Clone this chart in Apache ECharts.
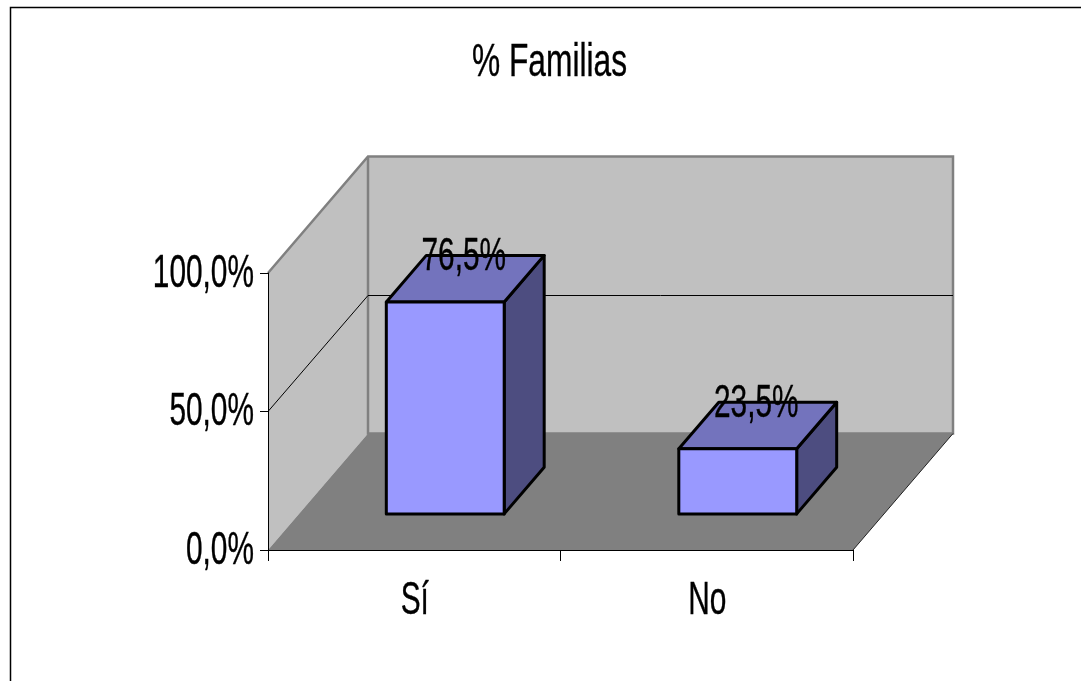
<!DOCTYPE html>
<html>
<head>
<meta charset="utf-8">
<style>html,body{margin:0;padding:0;background:#fff;overflow:hidden}#chart{width:1081px;height:681px}</style>
<script src="https://cdn.jsdelivr.net/npm/echarts@6/dist/echarts.min.js"></script>
</head>
<body>
<div id="chart"></div>
<script>
// Chart values
const titleText = '% Familias';
const categories = ['Sí', 'No'];
const shares = [76.5, 23.5];
const yTickValues = [0, 50, 100];
const yTickLabels = ['0,0%', '50,0%', '100,0%'];

// Oblique projection of the box: how far the back plane shifts from the front plane
const DEPTH_X = 100, DEPTH_Y = -116.5;
const BAR_START = 0.31, BAR_DEPTH = 0.4, BAR_SHARE = 0.403;

const FONT = '"Liberation Sans", Arial, sans-serif';
const FONT_SIZE = 47, SQUEEZE = 0.635;
const WALL = '#C0C0C0', FLOOR = '#808080', EDGE = '#808080';
const FRONT = '#9999FF', TOP = '#7373BD', SIDE = '#4D4D80';

const shift = (p, t) => [p[0] + DEPTH_X * t, p[1] + DEPTH_Y * t];
const crisp = p => [p[0], Math.floor(p[1]) + 0.5];
const textStyle = (text, align) => ({
  text, fontFamily: FONT, fontSize: FONT_SIZE, fill: '#000',
  stroke: '#000', lineWidth: 0.4, align, verticalAlign: 'middle'
});
const squeezed = (text, x, y, align) => ({
  type: 'text', x, y, scaleX: SQUEEZE, style: textStyle(text, align)
});

// Back wall, side wall, floor and the gridlines that run across them
function renderRoom(params, api) {
  const left = params.coordSys.x, right = left + params.coordSys.width;
  const at = (x, v) => [x, api.coord([0, v])[1]];
  const fl = at(left, 0), fr = at(right, 0), tl = at(left, 100), tr = at(right, 100);
  const bfl = shift(fl, 1), bfr = shift(fr, 1), btl = shift(tl, 1), btr = shift(tr, 1);
  const children = [
    { type: 'polygon', shape: { points: [bfl, btl, btr, bfr] }, style: { fill: WALL } },
    { type: 'polygon', shape: { points: [fl, tl, btl, bfl] }, style: { fill: WALL } },
    { type: 'polygon', shape: { points: [fl, fr, bfr, bfl] }, style: { fill: FLOOR } },
    { type: 'polyline', shape: { points: [tl, btl, btr, bfr, bfl, btl] }, style: { fill: 'none', stroke: EDGE, lineWidth: 2.5 } },
    { type: 'line', shape: { x1: fr[0], y1: fr[1], x2: bfr[0], y2: bfr[1] }, style: { stroke: '#222', lineWidth: 1 } }
  ];
  yTickValues.slice(1, -1).forEach(v => {
    const a = at(left, v), b = crisp(shift(a, 1)), c = crisp(shift(at(right, v), 1));
    children.push({ type: 'polyline', shape: { points: [a, b, c] }, style: { fill: 'none', stroke: '#000', lineWidth: 1 } });
  });
  return { type: 'group', children };
}

// One box per category: side and top faces first, then the front, then the value
function renderBar(params, api) {
  const base = api.coord([api.value(0), 0]);
  const topY = api.coord([api.value(0), api.value(1)])[1];
  const half = api.size([1, 0])[0] * BAR_SHARE / 2;
  const bl = shift([base[0] - half, base[1]], BAR_START);
  const br = shift([base[0] + half, base[1]], BAR_START);
  const rise = topY - base[1];
  const tl = [bl[0], bl[1] + rise], tr = [br[0], br[1] + rise];
  const line = { stroke: '#000', lineWidth: 3, lineJoin: 'round' };
  const backOf = p => [p[0] + DEPTH_X * BAR_DEPTH, p[1] + DEPTH_Y * BAR_DEPTH];
  const tBack = backOf(tr);
  return {
    type: 'group',
    children: [
      { type: 'polygon', shape: { points: [br, backOf(br), tBack, tr] }, style: { fill: SIDE, ...line } },
      { type: 'polygon', shape: { points: [tl, tr, tBack, backOf(tl)] }, style: { fill: TOP, ...line } },
      { type: 'polygon', shape: { points: [bl, br, tr, tl] }, style: { fill: FRONT, ...line } },
      squeezed(api.value(1).toFixed(1).replace('.', ',') + '%', (tl[0] + tr[0]) / 2 + 18.5, tBack[1] + 2, 'center')
    ]
  };
}

function renderYLabel(params, api) {
  const p = api.coord([0, api.value(0)]);
  return squeezed(yTickLabels[params.dataIndex], params.coordSys.x - 14, p[1] + 1, 'right');
}

function renderXLabel(params, api) {
  const p = api.coord([api.value(0), 0]);
  return squeezed(categories[params.dataIndex], p[0] + 0.5, p[1] + 51, 'center');
}

const chart = echarts.init(document.getElementById('chart'), null, { renderer: 'canvas' });
chart.setOption({
  animation: false,
  backgroundColor: '#fff',
  grid: { left: 268, right: 228, top: 273, bottom: 131, containLabel: false },
  xAxis: {
    type: 'category', data: categories, z: 3,
    axisLine: { lineStyle: { color: '#000', width: 1 } },
    axisTick: { show: true, length: 11, lineStyle: { color: '#000' } },
    axisLabel: { show: false }, splitLine: { show: false }
  },
  yAxis: {
    type: 'value', min: 0, max: 100, interval: 50, z: 3,
    axisLine: { show: true, lineStyle: { color: '#000', width: 1 } },
    axisTick: { show: true, length: 8, lineStyle: { color: '#000' } },
    axisLabel: { show: false }, splitLine: { show: false }
  },
  graphic: [
    { type: 'polyline', z: 0, silent: true,
      shape: { points: [[10.5, 681], [10.5, 7.5], [1081, 7.5]] },
      style: { fill: 'none', stroke: '#000', lineWidth: 1.5 } },
    { type: 'text', x: 549.5, y: 63, scaleX: 0.675, z: 10, silent: true,
      style: textStyle(titleText, 'center') }
  ],
  series: [
    { type: 'custom', z: 1, silent: true, renderItem: renderRoom, data: [[0, 0]] },
    { type: 'custom', z: 4, silent: true, renderItem: renderBar, data: shares.map((v, i) => [i, v]) },
    { type: 'custom', z: 5, silent: true, renderItem: renderYLabel, data: yTickValues.map(v => [v]), encode: { y: 0 } },
    { type: 'custom', z: 5, silent: true, renderItem: renderXLabel, data: categories.map((c, i) => [i]), encode: { x: 0 } }
  ]
});
</script>
</body>
</html>
